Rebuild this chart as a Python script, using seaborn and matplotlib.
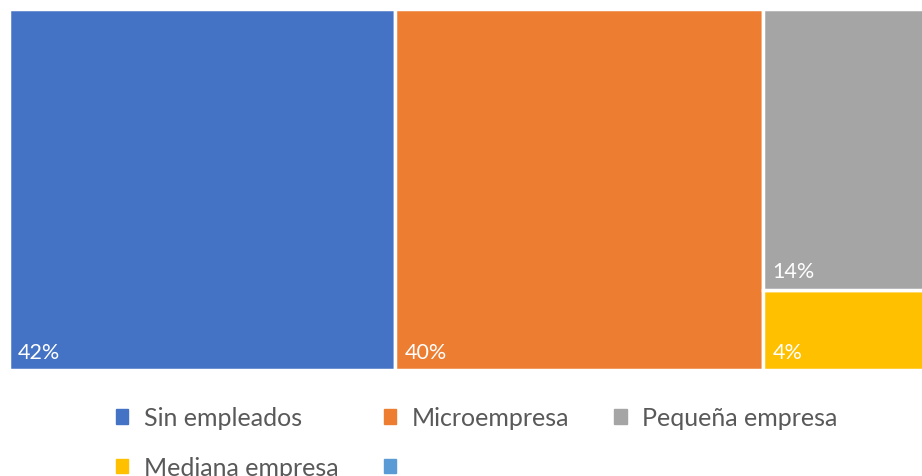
import matplotlib.pyplot as plt
import matplotlib.patches as mpatches
import seaborn as sns

categories = ["Sin empleados", "Microempresa", "Pequeña empresa", "Mediana empresa"]
values = [42, 40, 14, 4]
labels = ["42%", "40%", "14%", "4%"]
# treemap columns (indices into categories)
columns = [[0], [1], [2, 3]]
colors = ["#4472C4", "#ED7D31", "#A5A5A5", "#FFC000"]
extra_color = "#5B9BD5"

sns.set_theme(style="white")
plt.rcParams["font.family"] = ["Lato", "DejaVu Sans"]

fig = plt.figure(figsize=(9.22, 4.77), dpi=100)
ax = fig.add_axes([9 / 922, 106 / 477, 920 / 922, 361 / 477])

total = sum(values)
left = 0
for col in columns:
    col_total = sum(values[i] for i in col)
    width = col_total / total * 100
    bottom = 0
    for i in reversed(col):
        h = values[i] / col_total * 100
        ax.bar(left, h, width=width, bottom=bottom, align="edge",
               color=colors[i], edgecolor="white", linewidth=2.5)
        ax.annotate(labels[i], (left, bottom), xytext=(6.5, 6),
                    textcoords="offset points", color="white", fontsize=15.5,
                    ha="left", va="bottom")
        bottom += h
    left += width

ax.set_xlim(0, 100)
ax.set_ylim(0, 100)
ax.axis("off")

handles = [mpatches.Patch(color=c) for c in colors]
blank = mpatches.Patch(color=extra_color)
order = [handles[0], handles[3], handles[1], blank, handles[2]]
names = [categories[0], categories[3], categories[1], "", categories[2]]
fig.legend(order, names, loc="center", bbox_to_anchor=(0.517, 0.07), ncol=3,
           frameon=False, fontsize=18, labelcolor="#595959",
           handlelength=0.5, handleheight=0.5, handletextpad=0.62,
           columnspacing=1.8, labelspacing=1.05)

fig.savefig("out.png", dpi=100)
